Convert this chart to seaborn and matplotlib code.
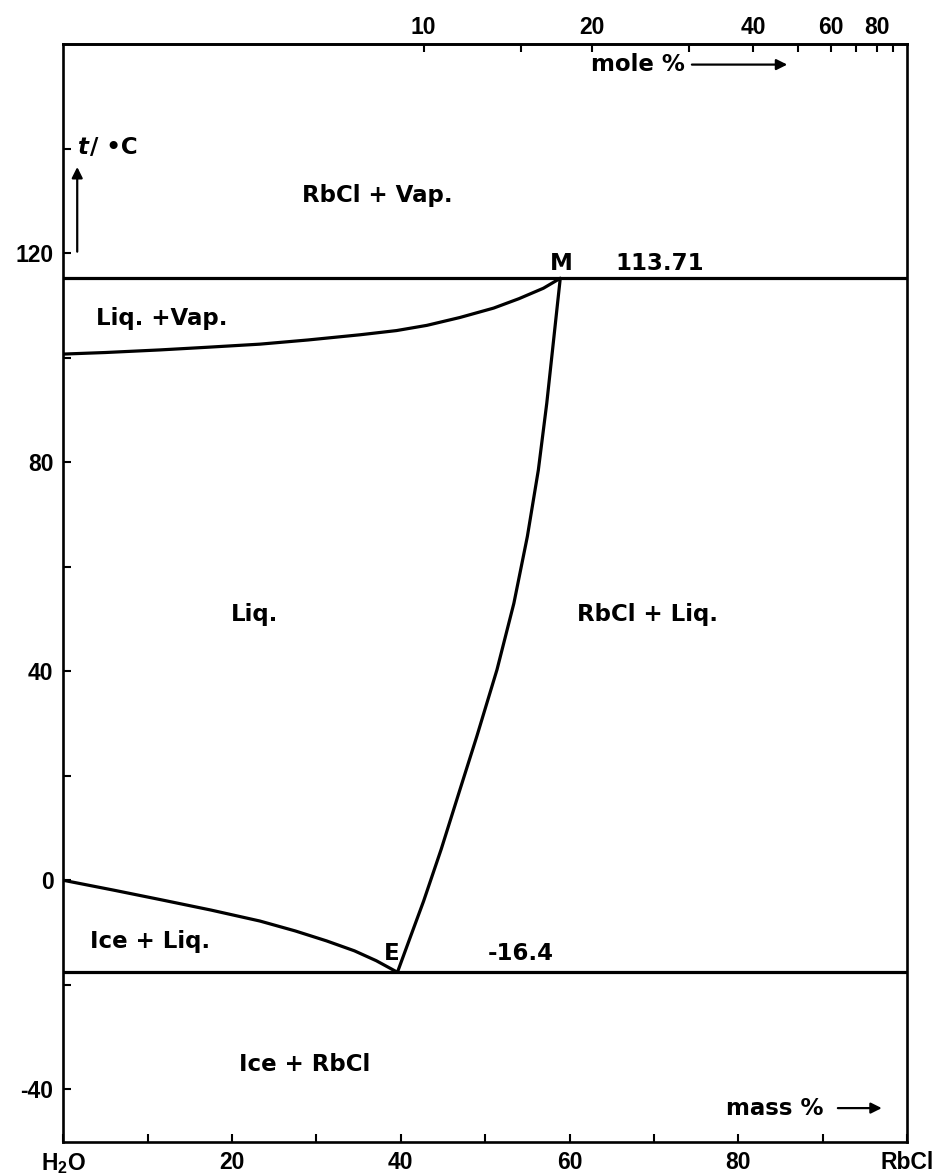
import numpy as np
import pandas as pd
import matplotlib
matplotlib.use("Agg")
import matplotlib.pyplot as plt
import seaborn as sns

# ---------------- data ----------------
# boiling curve (Liq. + Vap. boundary): mass % RbCl vs t / degC
boil_mass = [0.0, 5.0, 11.5, 17.0, 23.3, 29.0, 35.2, 39.5, 43.1, 47.0, 51.0, 54.0, 56.9, 58.9]
boil_t = [100.7, 101.0, 101.5, 102.0, 102.6, 103.4, 104.4, 105.2, 106.2, 107.7, 109.5, 111.3, 113.3, 115.2]
# ice liquidus
ice_mass = [0.0, 6.0, 11.5, 17.5, 23.3, 27.5, 31.2, 34.5, 37.1, 39.6]
ice_t = [0.0, -1.9, -3.7, -5.7, -7.8, -9.7, -11.6, -13.5, -15.4, -17.6]
# RbCl solubility curve E -> M
sol_mass = [39.6, 41.1, 42.7, 44.8, 47.0, 49.0, 51.4, 53.4, 55.0, 56.3, 57.3, 58.15, 58.55, 58.9]
sol_t = [-17.6, -11.0, -4.0, 6.0, 17.3, 27.5, 40.3, 53.0, 65.8, 78.5, 91.3, 104.0, 110.0, 115.2]
# invariant horizontal lines
iso_mass = [0.0, 100.0]
m_line_t = [115.2, 115.2]
e_line_t = [-17.6, -17.6]

# axis ticks
y_major = [-40, 0, 40, 80, 120]
y_major_labels = ["-40", "0", "40", "80", "120"]
y_minor = [-20, 20, 60, 100, 140]
x_major = [0, 20, 40, 60, 80, 100]
x_major_labels = [r"H$_\mathbf{2}$O", "20", "40", "60", "80", "RbCl"]
x_minor = [10, 30, 50, 70, 90]
mole_ticks = [10, 15, 20, 30, 40, 50, 60, 70, 80, 90]
mole_labels = ["10", "", "20", "", "40", "", "60", "", "80", ""]

M_RBCL = 120.92
M_H2O = 18.015


def mass_to_mole(w):
    w = np.asarray(w, dtype=float)
    with np.errstate(divide="ignore", invalid="ignore"):
        a = w / M_RBCL
        b = (100.0 - w) / M_H2O
        return 100.0 * a / (a + b)


def mole_to_mass(x):
    x = np.asarray(x, dtype=float)
    with np.errstate(divide="ignore", invalid="ignore"):
        a = x * M_RBCL
        b = (100.0 - x) * M_H2O
        return 100.0 * a / (a + b)


# ---------------- style ----------------
sns.set_style("ticks")
plt.rcParams["font.family"] = ["Liberation Sans", "DejaVu Sans"]
plt.rcParams["font.weight"] = "bold"
plt.rcParams["text.color"] = "black"
plt.rcParams["xtick.color"] = "black"
plt.rcParams["ytick.color"] = "black"
plt.rcParams["mathtext.fontset"] = "custom"
plt.rcParams["mathtext.rm"] = "Liberation Sans"
plt.rcParams["mathtext.bf"] = "Liberation Sans:bold"

fig = plt.figure(figsize=(9.42, 11.76), dpi=100)
ax = fig.add_axes([0.0672, 0.0293, 0.8957, 0.9331])

lw = 2.3
curves = [
    (boil_mass, boil_t),
    (ice_mass, ice_t),
    (sol_mass, sol_t),
    (iso_mass, m_line_t),
    (iso_mass, e_line_t),
]
for xs, ys in curves:
    df = pd.DataFrame({"mass": xs, "t": ys})
    sns.lineplot(data=df, x="mass", y="t", ax=ax, sort=False, estimator=None,
                 color="black", linewidth=lw, legend=False)

ax.set_xlim(0, 100)
ax.set_ylim(-50, 160)
ax.set_xlabel("")
ax.set_ylabel("")

for s in ax.spines.values():
    s.set_linewidth(1.9)
    s.set_color("black")

ax.set_yticks(y_major, labels=y_major_labels)
ax.set_yticks(y_minor, minor=True)
ax.set_xticks(x_major, labels=x_major_labels)
ax.set_xticks(x_minor, minor=True)
ax.tick_params(axis="both", which="both", direction="in", length=6, width=1.5,
               color="black", labelcolor="black")
ax.tick_params(axis="y", which="major", pad=7, labelsize=16.5)
ax.tick_params(axis="x", which="major", pad=7, labelsize=16.5)
for lab in ax.get_xticklabels() + ax.get_yticklabels():
    lab.set_fontweight("bold")
    lab.set_color("black")

sec = ax.secondary_xaxis("top", functions=(mass_to_mole, mole_to_mass))
sec.set_xticks(mole_ticks, labels=mole_labels)
sec.tick_params(direction="in", length=6, width=1.5, pad=4, labelsize=16.5,
                color="black", labelcolor="black")
sec.spines["top"].set_linewidth(1.9)
sec.spines["top"].set_color("black")
for lab in sec.get_xticklabels():
    lab.set_fontweight("bold")
    lab.set_color("black")

# ---------------- region labels ----------------
lab_font = ["DejaVu Sans"]
fs = 16.5
txt = dict(fontsize=fs, fontweight="bold", ha="center", va="center",
           color="black", family=lab_font)
ax.text(37.2, 131, "RbCl + Vap.", **txt)
ax.text(11.7, 107.5, "Liq. +Vap.", **txt)
ax.text(22.7, 50.8, "Liq.", **txt)
ax.text(69.2, 50.8, "RbCl + Liq.", **txt)
ax.text(10.3, -11.8, "Ice + Liq.", **txt)
ax.text(28.6, -35.3, "Ice + RbCl", **txt)
ax.text(59.0, 118.0, "M", **txt)
ax.text(70.7, 118.0, "113.71", **txt)
ax.text(38.9, -14.0, "E", **txt)
ax.text(54.2, -14.0, "-16.4", **txt)

# axis-name annotations with arrows
arrow = dict(arrowstyle="-|>", color="black", lw=1.6, mutation_scale=16,
             shrinkA=0, shrinkB=0)
ax.text(78.5, -43.6, "mass %", fontsize=fs, fontweight="bold", ha="left",
        va="center", color="black", family=lab_font)
ax.annotate("", xy=(97.0, -43.6), xytext=(91.8, -43.6), arrowprops=arrow)
ax.text(62.5, 156.1, "mole %", fontsize=fs, fontweight="bold", ha="left",
        va="center", color="black", family=lab_font)
ax.annotate("", xy=(85.8, 156.1), xytext=(74.5, 156.1), arrowprops=arrow)
ax.text(1.6, 140.2, "t", fontsize=fs, fontweight="bold", style="italic",
        ha="left", va="center", color="black", family=lab_font)
ax.text(3.2, 140.2, "/ \u2022C", fontsize=fs, fontweight="bold", ha="left",
        va="center", color="black", family=lab_font)
ax.annotate("", xy=(1.65, 136.5), xytext=(1.65, 120.3), arrowprops=arrow)

fig.savefig("out.png", dpi=100)
